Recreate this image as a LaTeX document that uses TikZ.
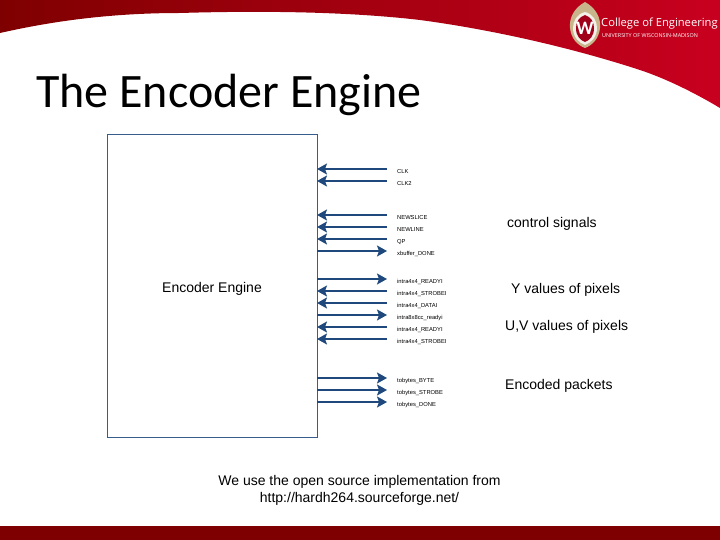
\documentclass[tikz,border=0pt]{standalone}
\usepackage{fontspec}
\setmainfont{Liberation Sans}
\newfontfamily\titlefont{Carlito}
\newfontfamily\crestfont{Open Sans}
\usetikzlibrary{calc, arrows.meta}

\definecolor{sigblue}{HTML}{1F497D}
\definecolor{boxblue}{HTML}{385D8A}
\definecolor{headred}{HTML}{C8001F}
\definecolor{midred}{HTML}{AC0018}
\definecolor{footred}{HTML}{7F0000}
\definecolor{crestgold}{HTML}{C9B58C}

\tikzset{
  sigin/.style={sigblue, line width=1.6pt, -{Stealth[length=10pt, width=11pt, inset=2pt]}},
  siglabel/.style={anchor=west, font=\fontsize{5.8}{6}\selectfont, inner xsep=10pt, inner ysep=0pt, text height=10pt, text depth=1pt},
  sidetext/.style={anchor=west, font=\fontsize{14}{16}\selectfont, inner sep=0pt}
}

\begin{document}
\begin{tikzpicture}[x=1pt, y=-1pt]
  \useasboundingbox (0,0) rectangle (720,540);

  % header and footer bands
  \shade[left color=footred, middle color=midred, right color=headred] (0,33)
    .. controls (40,24) and (100,13) .. (180,13)
    .. controls (280,10) and (360,13) .. (420,20)
    .. controls (480,28) and (560,44) .. (640,70)
    .. controls (670,80) and (700,96) .. (720,108) -- (720,0) -- (0,0) -- cycle;
  \fill[footred] (0,526) rectangle (720,540);

  % crest
  \fill[crestgold] (585,2) .. controls (596,8) and (601,18) .. (600,28)
    .. controls (599,38) and (593,45) .. (585,48)
    .. controls (577,45) and (571,38) .. (570,28)
    .. controls (569,18) and (574,8) .. (585,2) -- cycle;
  \fill[white!80!crestgold] (585,12) .. controls (593,14) and (597,21) .. (597,28)
    .. controls (597,37) and (591,43) .. (585,45)
    .. controls (579,43) and (573,37) .. (573,28)
    .. controls (573,21) and (577,14) .. (585,12) -- cycle;
  \fill[headred!80!black] (585,15) .. controls (591,17) and (594,22) .. (594,28)
    .. controls (594,36) and (590,40) .. (585,42)
    .. controls (580,40) and (576,36) .. (576,28)
    .. controls (576,22) and (579,17) .. (585,15) -- cycle;
  \node[inner sep=0pt, text=white, font=\titlefont\bfseries\fontsize{19}{19}\selectfont] (crest) at (585,28.5) {W};
  \node[anchor=west, inner sep=0pt, text=white, font=\crestfont\fontsize{11.2}{13}\selectfont] (college) at (601,24) {College of Engineering};
  \node[anchor=west, inner sep=0pt, text=white, font=\crestfont\fontsize{5.4}{6}\selectfont] (univ) at (602,36) {UNIVERSITY OF WISCONSIN-MADISON};

  % title
  \node[anchor=west, inner sep=0pt, font=\titlefont\fontsize{48}{52}\selectfont] (title) at (36,95) {The Encoder Engine};

  % engine box
  \draw[boxblue, line width=1pt] (107,135) rectangle (317,437);
  \node[font=\fontsize{14}{16}\selectfont] (engine) at (212,289) {Encoder Engine};

  % signals
  \node[siglabel] (clk) at (387,169) {CLK};
  \node[siglabel] (clktwo) at (387,181) {CLK2};
  \node[siglabel] (newslice) at (387,215) {NEWSLICE};
  \node[siglabel] (newline) at (387,227) {NEWLINE};
  \node[siglabel] (qp) at (387,239) {QP};
  \node[siglabel] (xbuffer) at (387,251) {xbuffer\_DONE};
  \node[siglabel] (ready) at (387,279) {intra4x4\_READYI};
  \node[siglabel] (strobe) at (387,291) {intra4x4\_STROBEI};
  \node[siglabel] (datai) at (387,303) {intra4x4\_DATAI};
  \node[siglabel] (ccready) at (387,315) {intra8x8cc\_readyi};
  \node[siglabel] (readytwo) at (387,327) {intra4x4\_READYI};
  \node[siglabel] (strobetwo) at (387,339) {intra4x4\_STROBEI};
  \node[siglabel] (tobyte) at (387,378) {tobytes\_BYTE};
  \node[siglabel] (tostrobe) at (387,390) {tobytes\_STROBE};
  \node[siglabel] (todone) at (387,402) {tobytes\_DONE};

  % inputs run to the box, outputs leave it
  \draw[sigin] (clk.west) -- (317,169);
  \draw[sigin] (clktwo.west) -- (317,181);
  \draw[sigin] (newslice.west) -- (317,215);
  \draw[sigin] (newline.west) -- (317,227);
  \draw[sigin] (qp.west) -- (317,239);
  \draw[sigin] (317,251) -- (xbuffer.west);
  \draw[sigin] (317,279) -- (ready.west);
  \draw[sigin] (strobe.west) -- (317,291);
  \draw[sigin] (datai.west) -- (317,303);
  \draw[sigin] (317,315) -- (ccready.west);
  \draw[sigin] (readytwo.west) -- (317,327);
  \draw[sigin] (strobetwo.west) -- (317,339);
  \draw[sigin] (317,378) -- (tobyte.west);
  \draw[sigin] (317,390) -- (tostrobe.west);
  \draw[sigin] (317,402) -- (todone.west);

  % groups on the right
  \node[sidetext] (control) at (507,224) {control signals};
  \node[sidetext] (yvalues) at (511,290) {Y values of pixels};
  \node[sidetext] (uvvalues) at (505,327) {U,V values of pixels};
  \node[sidetext] (packets) at (505,386) {Encoded packets};

  % source note
  \node[align=center, font=\fontsize{14}{17}\selectfont] (note) at (359.5,490) {We use the open source implementation from\\http://hardh264.sourceforge.net/};
\end{tikzpicture}
\end{document}
